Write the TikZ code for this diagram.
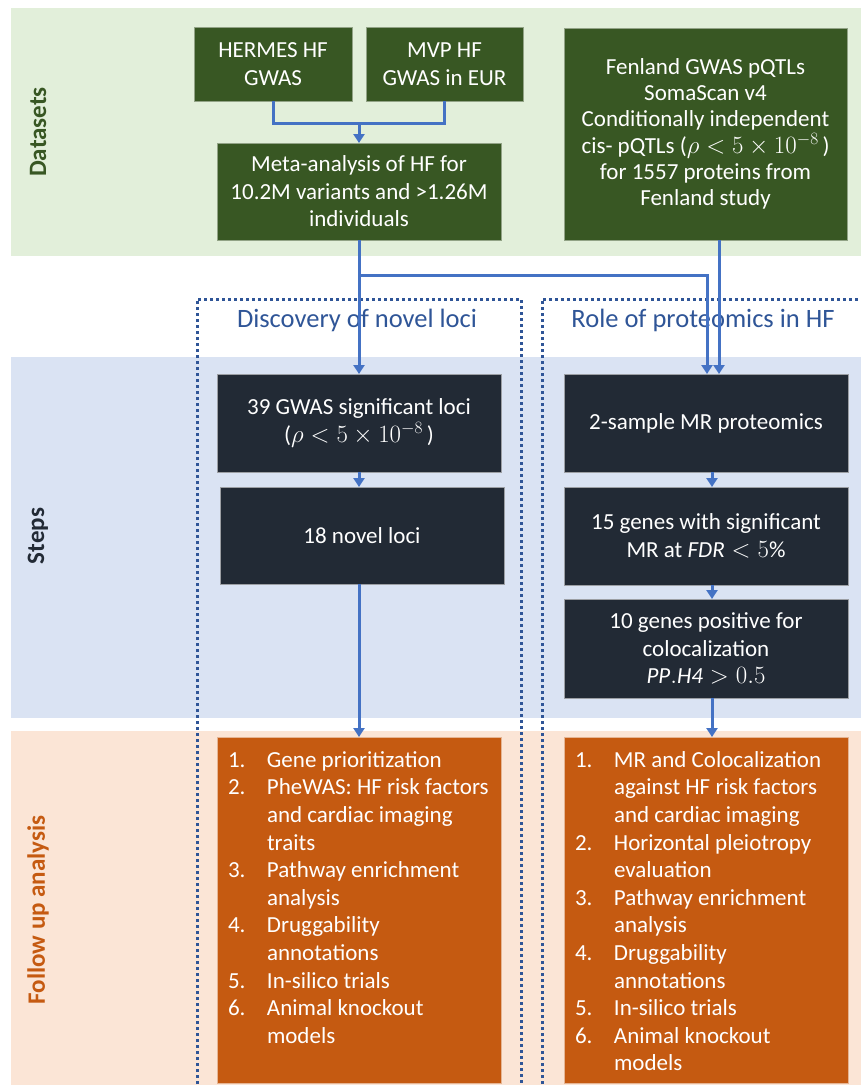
\documentclass[tikz,border=0pt]{standalone}
\usepackage{fontspec}
\setmainfont{Carlito}
\usepackage{tikz}
\usetikzlibrary{arrows.meta,calc}

\definecolor{dsband}{HTML}{E2EFDA}
\definecolor{stband}{HTML}{DAE3F3}
\definecolor{fuband}{HTML}{FBE5D6}
\definecolor{dsgreen}{HTML}{385723}
\definecolor{stslate}{HTML}{222A35}
\definecolor{fuorange}{HTML}{C55A11}
\definecolor{flowblue}{HTML}{4472C4}
\definecolor{dotblue}{HTML}{2F5597}

\tikzset{
  boxtext/.style={text=white, inner sep=0pt, outer sep=0pt, align=center,
                  font=\fontsize{23}{27.5}\selectfont},
  dsbox/.style={boxtext, draw=dsgreen!55!white, line width=0.8pt, fill=dsgreen},
  stbox/.style={boxtext, draw=stslate!45!white, line width=0.8pt, fill=stslate,
                minimum width=284pt},
  fubox/.style={boxtext, draw=fuorange!45!white, line width=0.8pt, fill=fuorange,
                align=left, minimum width=284pt, minimum height=346pt,
                font=\fontsize{23}{27.6}\selectfont},
  bandlabel/.style={rotate=90, font=\fontsize{25}{30}\selectfont\bfseries},
  pathtitle/.style={text=dotblue, font=\fontsize{26.5}{30}\selectfont},
  flow/.style={draw=flowblue, line width=3pt},
  flowarrow/.style={flow, -{Triangle[length=9pt,width=11pt]}},
  pathframe/.style={draw=dotblue, line width=3pt, dash pattern=on 3pt off 3pt}
}

\begin{document}
\begin{tikzpicture}[x=1pt, y=-1pt]
        \useasboundingbox (0,0) rectangle (861,1085);
        % bands
        \fill [dsband] (11,8)   rectangle (861,256);                      %Datasets
        \fill [stband] (11,357) rectangle (861,718);                      %Steps
        \fill [fuband] (11,731) rectangle (861,1085);                     %Follow up
        \node [bandlabel, text=dsgreen]  (lblds) at (38,132) {Datasets};
        \node [bandlabel, text=stslate]  (lblst) at (38,536) {Steps};
        \node [bandlabel, text=fuorange] (lblfu) at (38,910) {Follow up analysis};

        % dotted frames for the two paths
        \draw [pathframe] (197,1090) -- (197,299) -- (521,299) -- (521,1090);
        \draw [pathframe] (542,1090) -- (542,299) -- (866,299);

        % datasets
        \node [dsbox, minimum width=158pt, minimum height=74pt]  (hermes)  at (273,64)    {HERMES HF\\GWAS};
        \node [dsbox, minimum width=157pt, minimum height=74pt]  (mvp)     at (444.5,64)  {MVP HF\\GWAS in EUR};
        \node [dsbox, minimum width=284pt, minimum height=97pt]  (meta)    at (359,191.5) {Meta-analysis of HF for\\10.2M variants and >1.26M\\individuals};
        \node [dsbox, minimum width=283pt, minimum height=212pt, font=\fontsize{23}{26.3}\selectfont] (fenland) at (705.5,134)
              {Fenland GWAS pQTLs\\SomaScan v4\\Conditionally independent\\cis- pQTLs ($\rho<5\times10^{-8}$\,)\\for 1557 proteins from\\Fenland study};

        % steps
        \node [stbox, minimum height=98pt] (gwas39)  at (359,423)   {39 GWAS significant loci\\($\rho<5\times10^{-8}$\,)};
        \node [stbox, minimum height=97pt] (novel18) at (362,535.5) {18 novel loci};
        \node [stbox, minimum height=98pt] (mr2)     at (706,423)   {2-sample MR proteomics};
        \node [stbox, minimum height=98pt] (genes15) at (706,536)   {15 genes with significant\\MR at $\mathit{FDR}<5\%$};
        \node [stbox, minimum height=99pt] (genes10) at (706,648.5) {10 genes positive for\\colocalization\\$\mathit{PP.H4}>0.5$};

        % follow up
        \node [fubox] (followL) at (359,910)
              {\parbox[t][346pt][t]{284pt}{\vspace{11pt}\hspace*{11pt}\begin{tabular}{@{}p{39pt}@{}l@{}}
                 1. & Gene prioritization\\
                 2. & PheWAS: HF risk factors\\
                    & and cardiac imaging\\
                    & traits\\
                 3. & Pathway enrichment\\
                    & analysis\\
                 4. & Druggability\\
                    & annotations\\
                 5. & In-silico trials\\
                 6. & Animal knockout\\
                    & models
               \end{tabular}}};
        \node [fubox] (followR) at (706,910)
              {\parbox[t][346pt][t]{284pt}{\vspace{11pt}\hspace*{11pt}\begin{tabular}{@{}p{39pt}@{}l@{}}
                 1. & MR and Colocalization\\
                    & against HF risk factors\\
                    & and cardiac imaging\\
                 2. & Horizontal pleiotropy\\
                    & evaluation\\
                 3. & Pathway enrichment\\
                    & analysis\\
                 4. & Druggability\\
                    & annotations\\
                 5. & In-silico trials\\
                 6. & Animal knockout\\
                    & models
               \end{tabular}}};

        % path titles
        \node [pathtitle] (ttlnovel) at (357,320) {Discovery of novel loci};
        \node [pathtitle] (ttlprot)  at (703,320) {Role of proteomics in HF};

        % connectors
        \coordinate (join)  at (359,123);
        \coordinate (split) at (359,275);
        \draw [flow]      (hermes.south) |- (join) -| (mvp.south);
        \draw [flowarrow] (join) -- (meta.north);
        \draw [flowarrow] (meta.south) -- (gwas39.north);
        \draw [flowarrow] (split) -| ($(mr2.north)+(1,0)$);
        \draw [flowarrow] ($(fenland.south)+(13.5,0)$) -- ($(mr2.north)+(13,0)$);
        \draw [flowarrow] (gwas39.south) -- (gwas39.south |- novel18.north);
        \draw [flowarrow] ($(novel18.south)+(-3,0)$) -- (followL.north);
        \draw [flowarrow] ($(mr2.south)+(6,0)$) -- ($(genes15.north)+(6,0)$);
        \draw [flowarrow] ($(genes15.south)+(6,0)$) -- ($(genes10.north)+(6,0)$);
        \draw [flowarrow] ($(genes10.south)+(6,0)$) -- ($(followR.north)+(6,0)$);
\end{tikzpicture}
\end{document}
